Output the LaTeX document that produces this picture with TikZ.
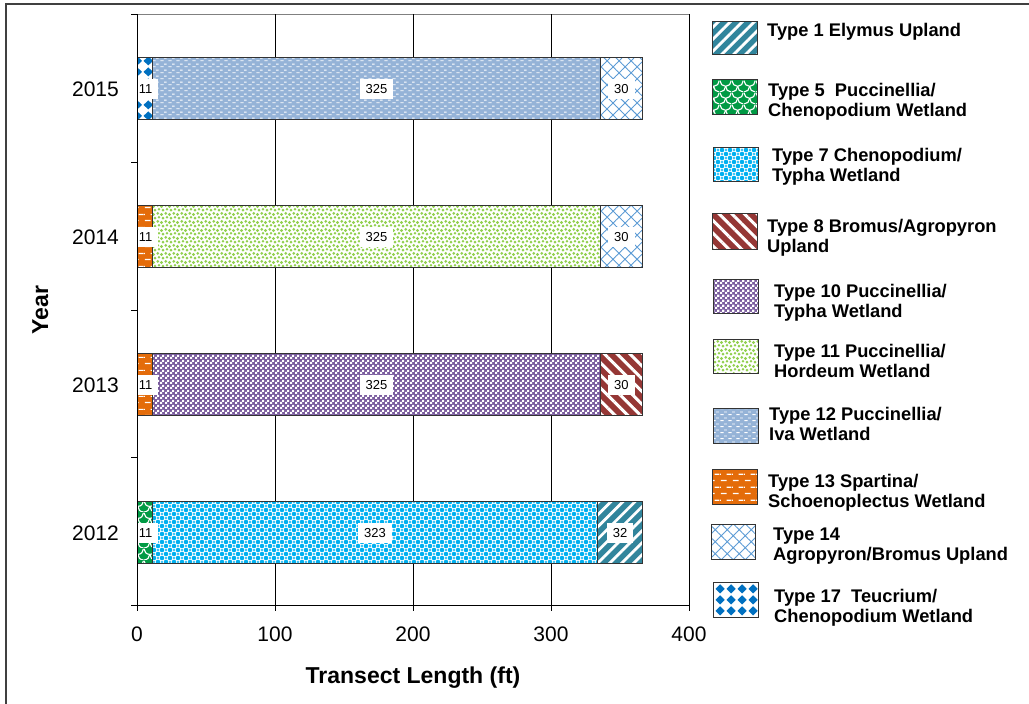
\documentclass[tikz,border=0pt]{standalone}
\usepackage{fontspec}
\setmainfont{Liberation Sans}
\usetikzlibrary{patterns,patterns.meta}

\definecolor{elymus}{HTML}{31859C}
\definecolor{puccgreen}{HTML}{009A44}
\definecolor{chenocyan}{HTML}{00B0F0}
\definecolor{bromusred}{HTML}{953735}
\definecolor{typhapurple}{HTML}{7A5C9E}
\definecolor{hordgreen}{HTML}{92D050}
\definecolor{ivablue}{HTML}{95B3D7}
\definecolor{spartorange}{HTML}{E46C0A}
\definecolor{agroblue}{HTML}{5B9BD5}
\definecolor{teucblue}{HTML}{0070C0}
\definecolor{framegray}{HTML}{404040}

\tikzdeclarepattern{name=scales,type=uncolored,
  bottom left={(0pt,0pt)},top right={(12pt,12pt)},tile size={(12pt,12pt)},
  code={
    \draw[line width=1.2pt] (0pt,12pt) arc[start angle=180,end angle=360,radius=6pt];
    \draw[line width=1.2pt] (0pt,0pt) arc[start angle=270,end angle=360,radius=6pt];
    \draw[line width=1.2pt] (6pt,6pt) arc[start angle=180,end angle=270,radius=6pt];
  }}
\tikzdeclarepattern{name=spheres,type=uncolored,
  bottom left={(-1pt,-1pt)},top right={(9pt,9pt)},tile size={(8pt,8pt)},
  code={
    \fill (2pt,2pt) circle[radius=2.3pt];
    \fill (6pt,6pt) circle[radius=2.3pt];
    \fill (2pt,6pt) circle[radius=1.2pt];
    \fill (6pt,2pt) circle[radius=1.2pt];
  }}
\tikzdeclarepattern{name=checker,type=uncolored,
  bottom left={(0pt,0pt)},top right={(5pt,5pt)},tile size={(5pt,5pt)},
  code={
    \fill (0pt,0pt) rectangle (2.5pt,2.5pt);
    \fill (2.5pt,2.5pt) rectangle (5pt,5pt);
  }}
\tikzdeclarepattern{name=gdots,type=uncolored,
  bottom left={(-1pt,-1pt)},top right={(9pt,9pt)},tile size={(8pt,8pt)},
  code={
    \fill (1.5pt,1.5pt) circle[radius=1.6pt];
    \fill (5.8pt,2.6pt) circle[radius=1.5pt];
    \fill (3pt,5.9pt) circle[radius=1.5pt];
    \fill (7pt,6.8pt) circle[radius=1.4pt];
  }}
\tikzdeclarepattern{name=sdash,type=uncolored,
  bottom left={(0pt,0pt)},top right={(8pt,6pt)},tile size={(8pt,6pt)},
  code={
    \fill (0.5pt,1pt) rectangle (4pt,2pt);
    \fill (4.5pt,4pt) rectangle (7.5pt,5pt);
  }}
\tikzdeclarepattern{name=wdash,type=uncolored,
  bottom left={(0pt,0pt)},top right={(12pt,13pt)},tile size={(12pt,13pt)},
  code={
    \fill (1pt,2pt) rectangle (7pt,3.3pt);
    \fill (7pt,8.5pt) rectangle (12pt,9.8pt);
    \fill (0pt,8.5pt) rectangle (1pt,9.8pt);
  }}
\tikzdeclarepattern{name=diams,type=uncolored,
  bottom left={(0pt,0pt)},top right={(11pt,11pt)},tile size={(11pt,11pt)},
  code={
    \fill (5.5pt,0.6pt) -- (10.4pt,5.5pt) -- (5.5pt,10.4pt) -- (0.6pt,5.5pt) -- cycle;
  }}

\begin{document}
\begin{tikzpicture}
  [x=1pt,y=-1pt,
   segbox/.style={draw=black!80,line width=1pt},
   gridln/.style={black,line width=0.9pt},
   num/.style={fill=white,inner xsep=6pt,inner ysep=5.5pt,font=\fontsize{13}{15}\selectfont},
   ticklab/.style={inner sep=0pt,font=\fontsize{21}{24}\selectfont},
   axtitle/.style={inner sep=0pt,font=\bfseries\fontsize{23}{27}\selectfont},
   legtext/.style={anchor=north west,align=left,inner sep=0pt,font=\bfseries\fontsize{18.3}{20}\selectfont},
   t1/.style={segbox,preaction={fill=elymus},pattern={Lines[angle=45,distance=8.5pt,line width=2.8pt]},pattern color=white},
   t5/.style={segbox,preaction={fill=puccgreen},pattern=scales,pattern color=white},
   t7/.style={segbox,preaction={fill=white},pattern=spheres,pattern color=chenocyan},
   t8/.style={segbox,preaction={fill=bromusred},pattern={Lines[angle=-45,distance=9pt,line width=3pt]},pattern color=white},
   t10/.style={segbox,preaction={fill=typhapurple},pattern=checker,pattern color=white},
   t11/.style={segbox,preaction={fill=white},pattern=gdots,pattern color=hordgreen},
   t12/.style={segbox,preaction={fill=ivablue},pattern=sdash,pattern color=white},
   t13/.style={segbox,preaction={fill=spartorange},pattern=wdash,pattern color=white},
   t14/.style={segbox,preaction={fill=white},pattern={Hatch[angle=45,distance=8.5pt,line width=0.9pt]},pattern color=agroblue},
   t17/.style={segbox,preaction={fill=white},pattern=diams,pattern color=teucblue}]
  \clip (0,0) rectangle (1029,704);
  \fill[white] (0,0) rectangle (1029,704);
  \draw[framegray,line width=1.5pt] (6,4) rectangle (1040,720);

  % plot frame and grid
  \draw[gray,line width=1pt] (131,14) -- (689,14);
  \foreach \gx in {275,413,551,689}
    \draw[gridln] (\gx,14) -- (\gx,605);
  \foreach \gy in {14,162,310,457,605}
    \draw[line width=0.9pt] (131,\gy) -- (137,\gy);

  % 2015
  \path[t17] (137,57.5) rectangle (152.2,119.5);
  \path[t12] (152.2,57.5) rectangle (600.7,119.5);
  \path[t14] (600.7,57.5) rectangle (642.1,119.5);
  % 2014
  \path[t13] (137,205.5) rectangle (152.2,267.5);
  \path[t11] (152.2,205.5) rectangle (600.7,267.5);
  \path[t14] (600.7,205.5) rectangle (642.1,267.5);
  % 2013
  \path[t13] (137,353.5) rectangle (152.2,415.5);
  \path[t10] (152.2,353.5) rectangle (600.7,415.5);
  \path[t8] (600.7,353.5) rectangle (642.1,415.5);
  % 2012
  \path[t5] (137,501.5) rectangle (152.2,563.5);
  \path[t7] (152.2,501.5) rectangle (597.9,563.5);
  \path[t1] (597.9,501.5) rectangle (642.1,563.5);

  \node[num] (n15a) at (145.5,89) {11};
  \node[num] (n15b) at (376.4,89) {325};
  \node[num] (n15c) at (621.4,89) {30};
  \node[num] (n14a) at (145.5,237) {11};
  \node[num] (n14b) at (376.4,237) {325};
  \node[num] (n14c) at (621.4,237) {30};
  \node[num] (n13a) at (145.5,385) {11};
  \node[num] (n13b) at (376.4,385) {325};
  \node[num] (n13c) at (621.4,385) {30};
  \node[num] (n12a) at (145.5,533) {11};
  \node[num] (n12b) at (375,533) {323};
  \node[num] (n12c) at (620,533) {32};

  % axes
  \draw[line width=1pt] (137,14) -- (137,605);
  \draw[line width=1pt] (131,605) -- (689,605);
  \foreach \gx in {137,275,413,551,689}
    \draw[line width=0.9pt] (\gx,605) -- (\gx,611);
  \foreach \gx/\lab in {137/0,275/100,413/200,551/300,689/400}
    \node[ticklab] (xl\lab) at (\gx,634) {\lab};
  \foreach \gy/\lab in {89/2015,237/2014,385/2013,533/2012}
    \node[ticklab,anchor=east] (yl\lab) at (119,\gy) {\lab};
  \node[axtitle,anchor=base] (xtitle) at (413,683) {Transect Length (ft)};
  \node[axtitle,anchor=base,rotate=90] (ytitle) at (48,310) {Year};

  % legend
  \path[t1] (712,21) rectangle (757,54);
  \node[legtext] (lg1) at (767,23) {Type 1 Elymus Upland};
  \path[t5] (712,79) rectangle (757,114);
  \node[legtext] (lg5) at (768,83) {Type 5\ \ Puccinellia/\\Chenopodium Wetland};
  \path[t7] (713,147) rectangle (758,181);
  \node[legtext] (lg7) at (772,148) {Type 7 Chenopodium/\\Typha Wetland};
  \path[t8] (712,213) rectangle (757,249);
  \node[legtext] (lg8) at (767,219) {Type 8 Bromus/Agropyron\\Upland};
  \path[t10] (713,279) rectangle (758,313);
  \node[legtext] (lg10) at (774,284) {Type 10 Puccinellia/\\Typha Wetland};
  \path[t11] (713,339) rectangle (758,373);
  \node[legtext] (lg11) at (774,344) {Type 11 Puccinellia/\\Hordeum Wetland};
  \path[t12] (713,408) rectangle (758,443);
  \node[legtext] (lg12) at (769,407) {Type 12 Puccinellia/\\Iva Wetland};
  \path[t13] (712,469) rectangle (757,504);
  \node[legtext] (lg13) at (768,474) {Type 13 Spartina/\\Schoenoplectus Wetland};
  \path[t14] (711,524) rectangle (755,559);
  \node[legtext] (lg14) at (773,528) {Type 14\\Agropyron/Bromus Upland};
  \path[t17] (713,582) rectangle (758,617);
  \node[legtext] (lg17) at (774,589) {Type 17\ \ Teucrium/\\Chenopodium Wetland};
\end{tikzpicture}
\end{document}
